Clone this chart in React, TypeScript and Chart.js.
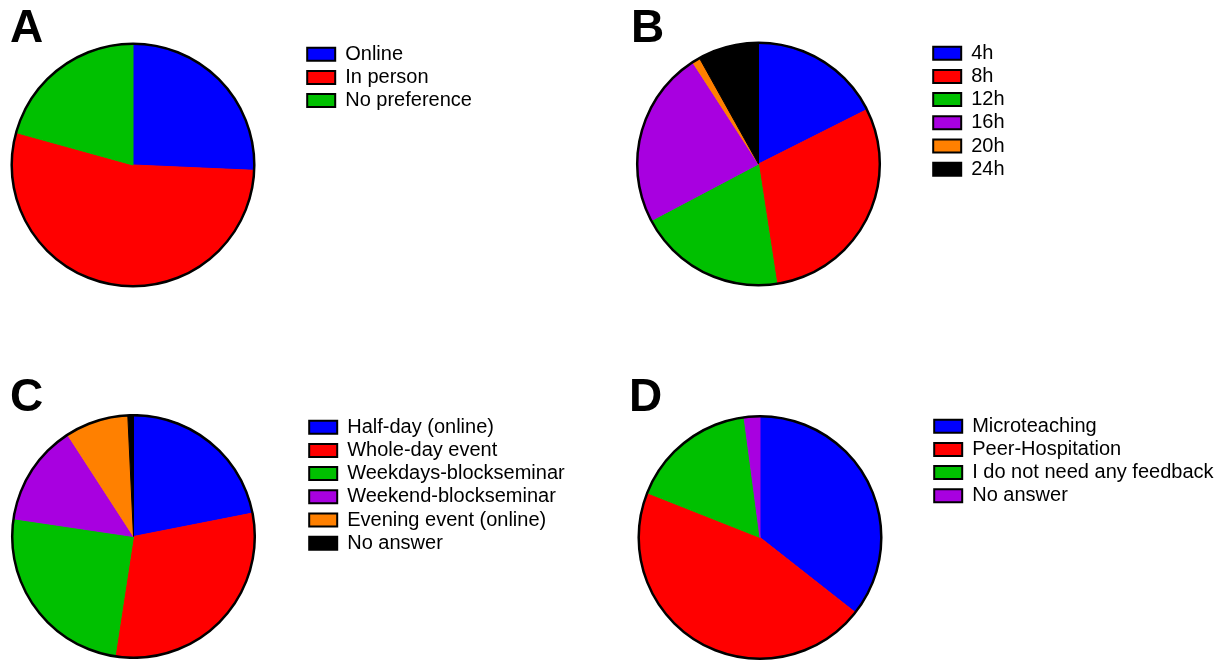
import React, { useEffect, useRef } from 'react';
import { Chart, registerables } from 'chart.js';

Chart.register(...registerables);

// ---- Data ----
const labelsA = ['Online', 'In person', 'No preference'];
const valuesA = [25.7, 53.6, 20.7];
const colorsA = ['#0000FF', '#FF0000', '#00C000'];

const labelsB = ['4h', '8h', '12h', '16h', '20h', '24h'];
const valuesB = [17.6, 30.0, 19.7, 23.6, 1.05, 8.1];
const colorsB = ['#0000FF', '#FF0000', '#00C000', '#A800E0', '#FF8000', '#000000'];

const labelsC = [
  'Half-day (online)',
  'Whole-day event',
  'Weekdays-blockseminar',
  'Weekend-blockseminar',
  'Evening event (online)',
  'No answer',
];
const valuesC = [21.9, 30.5, 24.9, 13.5, 8.4, 0.75];
const colorsC = ['#0000FF', '#FF0000', '#00C000', '#A800E0', '#FF8000', '#000000'];

const labelsD = ['Microteaching', 'Peer-Hospitation', 'I do not need any feedback', 'No answer'];
const valuesD = [35.6, 45.4, 16.9, 2.1];
const colorsD = ['#0000FF', '#FF0000', '#00C000', '#A800E0'];

const panelLetters = ['A', 'B', 'C', 'D'];

// ---- Layout (positions only) ----
type PanelLayout = { left: number; top: number; areaW: number; h: number; letterX: number; letterY: number };
const layouts: PanelLayout[] = [
  { left: -38, top: 41, areaW: 342, h: 248, letterX: 10, letterY: 3 },
  { left: 587, top: 40, areaW: 343, h: 248, letterX: 631, letterY: 3 },
  { left: -39, top: 414, areaW: 345, h: 245, letterX: 10, letterY: 372 },
  { left: 589, top: 413, areaW: 342, h: 249, letterX: 629, letterY: 372 },
];

const FONT = "'Liberation Sans', Arial, Helvetica, sans-serif";
const FONT_SIZE = 20;
const BOX_W = 28;
const LEG_PAD = 3.2;

function legendWidth(labels: string[]): number {
  const c = document.createElement('canvas');
  const ctx = c.getContext('2d')!;
  ctx.font = `normal ${FONT_SIZE}px ${FONT}`;
  let max = 0;
  for (const l of labels) max = Math.max(max, ctx.measureText(l).width);
  return LEG_PAD + BOX_W + FONT_SIZE / 2 + max + 10;
}

const outlinePlugin = {
  id: 'pieOutline',
  afterDatasetsDraw(chart: any) {
    const arc = chart.getDatasetMeta(0).data[0];
    if (!arc) return;
    const { x, y, outerRadius } = arc.getProps(['x', 'y', 'outerRadius'], true);
    const ctx = chart.ctx;
    ctx.save();
    ctx.beginPath();
    ctx.arc(x, y, outerRadius, 0, Math.PI * 2);
    ctx.lineWidth = 2.5;
    ctx.strokeStyle = '#000';
    ctx.stroke();
    ctx.restore();
  },
};

function PiePanel({ labels, values, colors, layout }: { labels: string[]; values: number[]; colors: string[]; layout: PanelLayout }) {
  const ref = useRef<HTMLCanvasElement | null>(null);
  const lw = legendWidth(labels);
  const W = Math.ceil(layout.areaW + lw) + 4;
  const padR = W - layout.areaW - lw;
  useEffect(() => {
    if (!ref.current) return;
    const chart = new Chart(ref.current, {
      type: 'pie',
      data: {
        labels,
        datasets: [
          {
            data: values,
            backgroundColor: colors,
            borderColor: colors,
            borderWidth: 1,
            radius: 121.3,
          } as any,
        ],
      },
      options: {
        responsive: false,
        animation: false,
        events: [],
        devicePixelRatio: 1,
        layout: { padding: { left: 0, top: 0, bottom: 0, right: padR } },
        plugins: {
          tooltip: { enabled: false },
          title: { display: false },
          legend: {
            display: true,
            position: 'right',
            align: 'start',
            labels: {
              boxWidth: BOX_W,
              boxHeight: 13,
              padding: LEG_PAD,
              color: '#000',
              font: { family: FONT, size: FONT_SIZE },
              generateLabels: (c: any) => {
                const ds = c.data.datasets[0];
                return (c.data.labels as string[]).map((text, i) => ({
                  text,
                  fillStyle: ds.backgroundColor[i],
                  strokeStyle: '#000',
                  lineWidth: 2,
                  hidden: false,
                  index: i,
                  fontColor: '#000',
                }));
              },
            },
          },
        },
      } as any,
      plugins: [outlinePlugin],
    });
    return () => chart.destroy();
  }, []);
  return (
    <canvas
      ref={ref}
      width={W}
      height={layout.h}
      style={{ position: 'absolute', left: layout.left, top: layout.top, width: W, height: layout.h }}
    />
  );
}

export default function App() {
  const panels = [
    { labels: labelsA, values: valuesA, colors: colorsA },
    { labels: labelsB, values: valuesB, colors: colorsB },
    { labels: labelsC, values: valuesC, colors: colorsC },
    { labels: labelsD, values: valuesD, colors: colorsD },
  ];
  return (
    <div
      style={{
        position: 'absolute',
        left: 0,
        top: 0,
        width: 1228,
        height: 661,
        overflow: 'hidden',
        background: '#fff',
      }}
    >
      {panels.map((p, i) => (
        <PiePanel key={i} labels={p.labels} values={p.values} colors={p.colors} layout={layouts[i]} />
      ))}
      {panelLetters.map((l, i) => (
        <div
          key={l}
          style={{
            position: 'absolute',
            left: layouts[i].letterX,
            top: layouts[i].letterY,
            font: `bold 46px ${FONT}`,
            lineHeight: '46px',
            color: '#000',
          }}
        >
          {l}
        </div>
      ))}
    </div>
  );
}
